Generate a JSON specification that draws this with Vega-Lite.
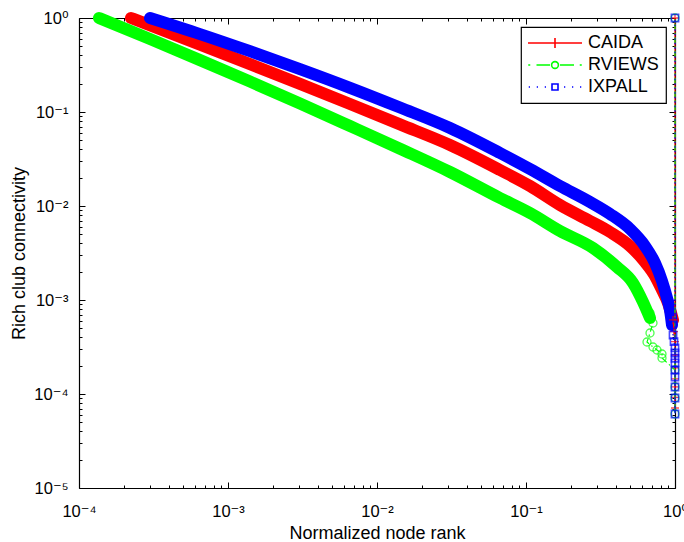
{
  "$schema": "https://vega.github.io/schema/vega-lite/v6.json",
  "width": 596,
  "height": 470,
  "autosize": {"type": "none"},
  "padding": {"left": 79, "top": 18, "right": 9, "bottom": 54},
  "background": "white",
  "config": {
    "view": {"stroke": null},
    "axis": {
      "grid": false,
      "domainColor": "black",
      "domainWidth": 1.2,
      "tickColor": "black",
      "tickWidth": 1,
      "labelColor": "black",
      "labelFont": "Liberation Sans, DejaVu Sans",
      "labelFontSize": 16.5,
      "labelFlush": false,
      "labelOverlap": false,
      "titleColor": "black",
      "titleFont": "Liberation Sans",
      "titleFontSize": 18,
      "titleFontWeight": "normal"
    }
  },
  "datasets": {
    "bands": [
      {"series": "CAIDA", "rank": 0.0002234, "phi": 1},
      {"series": "CAIDA", "rank": 0.0006489, "phi": 0.5212},
      {"series": "CAIDA", "rank": 0.001405, "phi": 0.3232},
      {"series": "CAIDA", "rank": 0.003042, "phi": 0.199},
      {"series": "CAIDA", "rank": 0.006589, "phi": 0.1216},
      {"series": "CAIDA", "rank": 0.01427, "phi": 0.0738},
      {"series": "CAIDA", "rank": 0.0309, "phi": 0.04456},
      {"series": "CAIDA", "rank": 0.06691, "phi": 0.02415},
      {"series": "CAIDA", "rank": 0.1064, "phi": 0.01632},
      {"series": "CAIDA", "rank": 0.1691, "phi": 0.01025},
      {"series": "CAIDA", "rank": 0.2689, "phi": 0.006927},
      {"series": "CAIDA", "rank": 0.3663, "phi": 0.005289},
      {"series": "CAIDA", "rank": 0.4989, "phi": 0.003753},
      {"series": "CAIDA", "rank": 0.629, "phi": 0.002536},
      {"series": "CAIDA", "rank": 0.7341, "phi": 0.0018},
      {"series": "CAIDA", "rank": 0.818, "phi": 0.001277},
      {"series": "CAIDA", "rank": 0.8975, "phi": 0.0009292},
      {"series": "CAIDA", "rank": 0.9696, "phi": 0.0006127},

      {"series": "RVIEWS", "rank": 0.0001362, "phi": 1},
      {"series": "RVIEWS", "rank": 0.0002996, "phi": 0.5977},
      {"series": "RVIEWS", "rank": 0.0006489, "phi": 0.3565},
      {"series": "RVIEWS", "rank": 0.001405, "phi": 0.2106},
      {"series": "RVIEWS", "rank": 0.003042, "phi": 0.1231},
      {"series": "RVIEWS", "rank": 0.006589, "phi": 0.07096},
      {"series": "RVIEWS", "rank": 0.01427, "phi": 0.0407},
      {"series": "RVIEWS", "rank": 0.0309, "phi": 0.023},
      {"series": "RVIEWS", "rank": 0.06691, "phi": 0.01216},
      {"series": "RVIEWS", "rank": 0.1064, "phi": 0.008426},
      {"series": "RVIEWS", "rank": 0.1691, "phi": 0.005421},
      {"series": "RVIEWS", "rank": 0.2816, "phi": 0.003573},
      {"series": "RVIEWS", "rank": 0.4081, "phi": 0.002244},
      {"series": "RVIEWS", "rank": 0.5224, "phi": 0.001517},
      {"series": "RVIEWS", "rank": 0.6098, "phi": 0.0009522},
      {"series": "RVIEWS", "rank": 0.6796, "phi": 0.0006436},

      {"series": "IXPALL", "rank": 0.0002996, "phi": 1},
      {"series": "IXPALL", "rank": 0.0006489, "phi": 0.6741},
      {"series": "IXPALL", "rank": 0.001405, "phi": 0.4433},
      {"series": "IXPALL", "rank": 0.003042, "phi": 0.286},
      {"series": "IXPALL", "rank": 0.006589, "phi": 0.1809},
      {"series": "IXPALL", "rank": 0.01427, "phi": 0.1116},
      {"series": "IXPALL", "rank": 0.0309, "phi": 0.06757},
      {"series": "IXPALL", "rank": 0.06691, "phi": 0.03662},
      {"series": "IXPALL", "rank": 0.1064, "phi": 0.02475},
      {"series": "IXPALL", "rank": 0.1691, "phi": 0.01632},
      {"series": "IXPALL", "rank": 0.2689, "phi": 0.01103},
      {"series": "IXPALL", "rank": 0.3663, "phi": 0.008222},
      {"series": "IXPALL", "rank": 0.4989, "phi": 0.005693},
      {"series": "IXPALL", "rank": 0.629, "phi": 0.003753},
      {"series": "IXPALL", "rank": 0.7341, "phi": 0.002475},
      {"series": "IXPALL", "rank": 0.818, "phi": 0.001593},
      {"series": "IXPALL", "rank": 0.8837, "phi": 0.00105},
      {"series": "IXPALL", "rank": 0.9256, "phi": 0.0007827},
      {"series": "IXPALL", "rank": 0.9548, "phi": 0.0005421}
    ],
    "tails": [
      {"series": "CAIDA", "k": 0, "rank": 0.9696, "phi": 0.0006127},
      {"series": "CAIDA", "k": 1, "rank": 0.985, "phi": 0.00046},
      {"series": "CAIDA", "k": 2, "rank": 1, "phi": 0.00036},
      {"series": "CAIDA", "k": 3, "rank": 1, "phi": 0.00026},
      {"series": "CAIDA", "k": 4, "rank": 1, "phi": 0.00019},
      {"series": "CAIDA", "k": 5, "rank": 1, "phi": 0.000145},
      {"series": "CAIDA", "k": 6, "rank": 1, "phi": 0.000119},
      {"series": "CAIDA", "k": 7, "rank": 1, "phi": 0.000092},
      {"series": "CAIDA", "k": 8, "rank": 1, "phi": 0.000071},
      {"series": "CAIDA", "k": 9, "rank": 1, "phi": 1},

      {"series": "RVIEWS", "k": 0, "rank": 0.6796, "phi": 0.0007272},
      {"series": "RVIEWS", "k": 1, "rank": 0.7117, "phi": 0.0005693},
      {"series": "RVIEWS", "k": 2, "rank": 0.6796, "phi": 0.0004456},
      {"series": "RVIEWS", "k": 3, "rank": 0.6488, "phi": 0.0003574},
      {"series": "RVIEWS", "k": 4, "rank": 0.7117, "phi": 0.0003162},
      {"series": "RVIEWS", "k": 5, "rank": 0.7572, "phi": 0.0002938},
      {"series": "RVIEWS", "k": 6, "rank": 0.818, "phi": 0.0002664},
      {"series": "RVIEWS", "k": 7, "rank": 0.818, "phi": 0.0002415},
      {"series": "RVIEWS", "k": 8, "rank": 1, "phi": 0.00018},
      {"series": "RVIEWS", "k": 9, "rank": 1, "phi": 0.000119},
      {"series": "RVIEWS", "k": 10, "rank": 1, "phi": 0.0000907},
      {"series": "RVIEWS", "k": 11, "rank": 1, "phi": 0.0000613},
      {"series": "RVIEWS", "k": 12, "rank": 1, "phi": 1},

      {"series": "IXPALL", "k": 0, "rank": 0.9548, "phi": 0.0005421},
      {"series": "IXPALL", "k": 1, "rank": 0.97, "phi": 0.0004243},
      {"series": "IXPALL", "k": 2, "rank": 0.985, "phi": 0.00036},
      {"series": "IXPALL", "k": 3, "rank": 1, "phi": 0.00031},
      {"series": "IXPALL", "k": 4, "rank": 1, "phi": 0.0002731},
      {"series": "IXPALL", "k": 5, "rank": 1, "phi": 0.00024},
      {"series": "IXPALL", "k": 6, "rank": 1, "phi": 0.0002137},
      {"series": "IXPALL", "k": 7, "rank": 1, "phi": 0.00018},
      {"series": "IXPALL", "k": 8, "rank": 1, "phi": 0.0001517},
      {"series": "IXPALL", "k": 9, "rank": 1, "phi": 0.0001187},
      {"series": "IXPALL", "k": 10, "rank": 1, "phi": 0.00009067},
      {"series": "IXPALL", "k": 11, "rank": 1, "phi": 0.00006127},
      {"series": "IXPALL", "k": 12, "rank": 1, "phi": 1}
    ]
  },
  "resolve": {"axis": {"x": "independent", "y": "independent"}},
  "layer": [
    {
      "data": {"name": "bands"},
      "mark": {"type": "line", "strokeWidth": 12, "strokeCap": "round", "strokeJoin": "round", "interpolate": "monotone"},
      "encoding": {
        "x": {
          "field": "rank", "type": "quantitative",
          "scale": {"type": "log", "domain": [0.0001, 1], "nice": false},
          "axis": {
            "orient": "bottom",
            "title": "Normalized node rank",
            "titlePadding": 2,
            "labelBaseline": "top",
            "labelPadding": 21,
            "labelExpr": "abs(log(datum.value)/LN10 - round(log(datum.value)/LN10)) < 0.000001 ? '10' + (round(log(datum.value)/LN10) < 0 ? '⁻' : '') + ['⁰','¹','²','³','⁴','⁵'][abs(round(log(datum.value)/LN10))] : ''",
            "tickSize": {"condition": {"test": "abs(log(datum.value)/LN10 - round(log(datum.value)/LN10)) < 0.000001", "value": -6}, "value": -3}
          }
        },
        "y": {
          "field": "phi", "type": "quantitative",
          "scale": {"type": "log", "domain": [0.00001, 1], "nice": false},
          "axis": {
            "orient": "left",
            "title": "Rich club connectivity",
            "titlePadding": 5,
            "labelPadding": 17,
            "labelExpr": "abs(log(datum.value)/LN10 - round(log(datum.value)/LN10)) < 0.000001 ? '10' + (round(log(datum.value)/LN10) < 0 ? '⁻' : '') + ['⁰','¹','²','³','⁴','⁵'][abs(round(log(datum.value)/LN10))] : ''",
            "tickSize": {"condition": {"test": "abs(log(datum.value)/LN10 - round(log(datum.value)/LN10)) < 0.000001", "value": -6}, "value": -3}
          }
        },
        "color": {
          "field": "series", "type": "nominal",
          "scale": {"domain": ["CAIDA", "RVIEWS", "IXPALL"], "range": ["#ff0000", "#00ff00", "#0000ff"]},
          "legend": {
            "title": null,
            "orient": "top-right",
            "offset": 9,
            "padding": 7,
            "rowPadding": 4,
            "fillColor": "white",
            "strokeColor": "black",
            "labelFont": "Liberation Sans",
            "labelFontSize": 18,
            "labelColor": "black",
            "symbolSize": 100,
            "symbolStrokeWidth": 1.6,
            "symbolOffset": 18,
            "labelOffset": 24,
            "encode": {
              "legend": {"update": {"strokeWidth": {"value": 1.2}}},
              "symbols": {
                "update": {
                  "shape": {"signal": "datum.value === 'CAIDA' ? 'M-5.4,0H5.4M0,-1V1' : datum.value === 'RVIEWS' ? 'M-5.35,0H-4.95M-3.7,0H-1M0.68,0A0.68,0.68,0,1,1,-0.68,0A0.68,0.68,0,1,1,0.68,0M1,0H3.8M4.95,0H5.35' : 'M-5.25,0H-5M-3.65,0H-3.4M-2.05,0H-1.8M-0.6,-0.6H0.6V0.6H-0.6ZM1.8,0H2.05M3.4,0H3.65M5,0H5.25'"},
                  "fill": {"value": "transparent"},
                  "strokeWidth": {"value": 1.6},
                  "size": {"value": 100}
                }
              }
            }
          }
        }
      }
    },
    {
      "data": {"name": "tails"},
      "transform": [{"filter": "datum.series === 'CAIDA'"}],
      "mark": {"type": "line", "strokeWidth": 1.2, "color": "#ff0000"},
      "encoding": {
        "x": {
          "field": "rank", "type": "quantitative",
          "scale": {"type": "log", "domain": [0.0001, 1], "nice": false},
          "axis": {
            "orient": "top", "labels": false, "title": null,
            "tickSize": {"condition": {"test": "abs(log(datum.value)/LN10 - round(log(datum.value)/LN10)) < 0.000001", "value": -6}, "value": -3}
          }
        },
        "y": {
          "field": "phi", "type": "quantitative",
          "scale": {"type": "log", "domain": [0.00001, 1], "nice": false},
          "axis": {
            "orient": "right", "labels": false, "title": null,
            "tickSize": {"condition": {"test": "abs(log(datum.value)/LN10 - round(log(datum.value)/LN10)) < 0.000001", "value": -6}, "value": -3}
          }
        },
        "order": {"field": "k", "type": "quantitative"}
      }
    },
    {
      "data": {"name": "tails"},
      "transform": [{"filter": "datum.series === 'CAIDA'"}],
      "mark": {"type": "point", "filled": false, "strokeWidth": 1.3, "size": 64, "color": "#ff0000", "shape": "M-1,0H1M0,-1V1"},
      "encoding": {
        "x": {"field": "rank", "type": "quantitative", "scale": {"type": "log", "domain": [0.0001, 1], "nice": false}, "axis": null},
        "y": {"field": "phi", "type": "quantitative", "scale": {"type": "log", "domain": [0.00001, 1], "nice": false}, "axis": null}
      }
    },
    {
      "data": {"name": "tails"},
      "transform": [{"filter": "datum.series === 'RVIEWS'"}],
      "mark": {"type": "line", "strokeWidth": 1.2, "color": "#00ff00", "strokeDash": [6, 3, 1.5, 3]},
      "encoding": {
        "x": {"field": "rank", "type": "quantitative", "scale": {"type": "log", "domain": [0.0001, 1], "nice": false}, "axis": null},
        "y": {"field": "phi", "type": "quantitative", "scale": {"type": "log", "domain": [0.00001, 1], "nice": false}, "axis": null},
        "order": {"field": "k", "type": "quantitative"}
      }
    },
    {
      "data": {"name": "tails"},
      "transform": [{"filter": "datum.series === 'RVIEWS'"}],
      "mark": {"type": "point", "filled": false, "strokeWidth": 1.3, "size": 64, "color": "#00ff00", "shape": "circle"},
      "encoding": {
        "x": {"field": "rank", "type": "quantitative", "scale": {"type": "log", "domain": [0.0001, 1], "nice": false}, "axis": null},
        "y": {"field": "phi", "type": "quantitative", "scale": {"type": "log", "domain": [0.00001, 1], "nice": false}, "axis": null}
      }
    },
    {
      "data": {"name": "tails"},
      "transform": [{"filter": "datum.series === 'IXPALL'"}],
      "mark": {"type": "line", "strokeWidth": 1.2, "color": "#0000ff", "strokeDash": [1.5, 3]},
      "encoding": {
        "x": {"field": "rank", "type": "quantitative", "scale": {"type": "log", "domain": [0.0001, 1], "nice": false}, "axis": null},
        "y": {"field": "phi", "type": "quantitative", "scale": {"type": "log", "domain": [0.00001, 1], "nice": false}, "axis": null},
        "order": {"field": "k", "type": "quantitative"}
      }
    },
    {
      "data": {"name": "tails"},
      "transform": [{"filter": "datum.series === 'IXPALL'"}],
      "mark": {"type": "point", "filled": false, "strokeWidth": 1.6, "size": 52, "color": "#0000ff", "shape": "square"},
      "encoding": {
        "x": {"field": "rank", "type": "quantitative", "scale": {"type": "log", "domain": [0.0001, 1], "nice": false}, "axis": null},
        "y": {"field": "phi", "type": "quantitative", "scale": {"type": "log", "domain": [0.00001, 1], "nice": false}, "axis": null}
      }
    }
  ]
}
